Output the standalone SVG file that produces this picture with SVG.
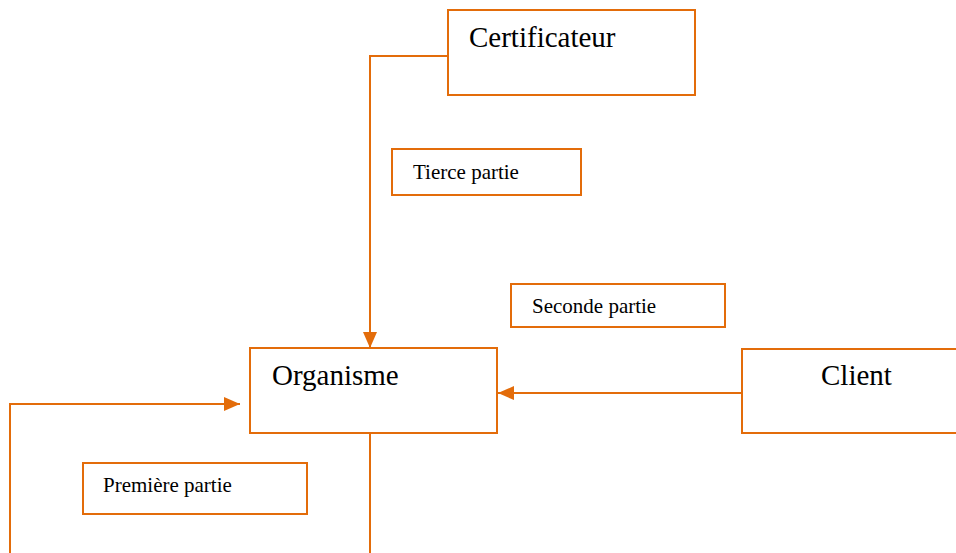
<svg xmlns="http://www.w3.org/2000/svg" width="956" height="553" viewBox="0 0 956 553">
<style>
.box{fill:#fff;stroke:#E36C0A;stroke-width:2}
.ln{fill:none;stroke:#E36C0A;stroke-width:2}
.big{font-family:'Liberation Serif','Times New Roman',serif;font-size:29px;fill:#000}
.sm{font-family:'Liberation Serif','Times New Roman',serif;font-size:21px;fill:#000}
</style>
<defs>
<marker id="ah" markerUnits="userSpaceOnUse" markerWidth="16" markerHeight="14" refX="16" refY="7" orient="auto">
<path d="M0,0 L16,7 L0,14 Z" fill="#E36C0A"/>
</marker>
</defs>
<g id="connectors">
<path class="ln" d="M448,56 H370 V348" marker-end="url(#ah)"/>
<path class="ln" d="M742,393 H498" marker-end="url(#ah)"/>
<path class="ln" d="M10,553 V404 H240" marker-end="url(#ah)"/>
<path class="ln" d="M370,433 V553"/>
</g>
<g id="certificateur">
<rect class="box" x="448" y="10" width="247" height="85"/>
<text class="big" x="469" y="47">Certificateur</text>
</g>
<g id="tierce">
<rect class="box" x="392" y="149" width="189" height="46"/>
<text class="sm" x="413" y="179">Tierce partie</text>
</g>
<g id="seconde">
<rect class="box" x="511" y="284" width="214" height="43"/>
<text class="sm" x="532" y="313">Seconde partie</text>
</g>
<g id="organisme">
<rect class="box" x="250" y="348" width="247" height="85"/>
<text class="big" x="272" y="385">Organisme</text>
</g>
<g id="client">
<rect class="box" x="742" y="349" width="230" height="84"/>
<text class="big" x="821" y="385">Client</text>
</g>
<g id="premiere">
<rect class="box" x="83" y="463" width="224" height="51"/>
<text class="sm" x="103" y="492">Première partie</text>
</g>
</svg>
